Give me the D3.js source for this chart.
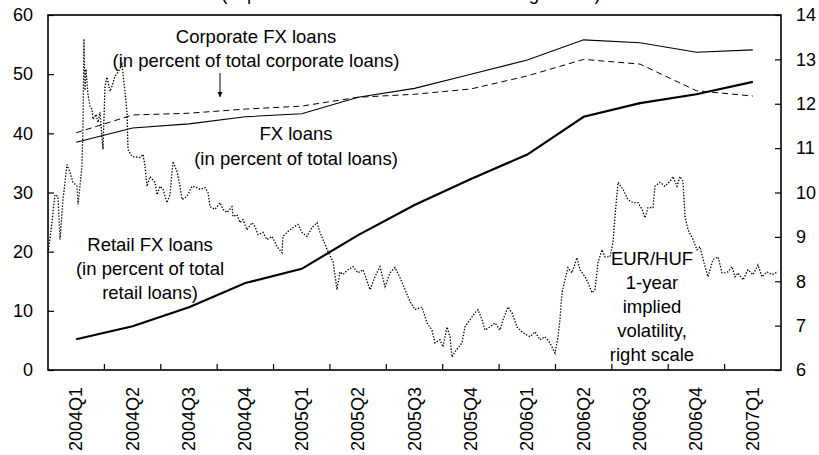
<!DOCTYPE html>
<html>
<head>
<meta charset="utf-8">
<script src="https://cdn.jsdelivr.net/npm/d3@7"></script>
<style>
  body { margin: 0; background: #fff; }
  svg { display: block; }
  text { font-family: "Liberation Sans", Arial, sans-serif; fill: #000; }
</style>
</head>
<body>
<div id="container"></div>
<script>
// quarters on the x axis
var quarters = ["2004Q1", "2004Q2", "2004Q3", "2004Q4", "2005Q1", "2005Q2", "2005Q3",
                "2005Q4", "2006Q1", "2006Q2", "2006Q3", "2006Q4", "2007Q1"];

// left scale, percent
var fxLoans        = [38.5, 40.9, 41.6, 42.8, 43.3, 46.1, 47.6, 50.0, 52.4, 55.8, 55.3, 53.7, 54.1];
var corporateLoans = [40.1, 43.1, 43.4, 44.1, 44.6, 46.1, 46.6, 47.5, 49.7, 52.5, 51.7, 47.2, 46.3];
var retailLoans    = [5.2, 7.4, 10.6, 14.7, 17.1, 22.8, 27.9, 32.3, 36.4, 42.8, 45.1, 46.6, 48.7];

// right scale: EUR/HUF 1-year implied volatility, [quarters since 2004Q1 start, value]
var volatility = [
  [0.00, 8.64], [0.035, 8.94], [0.124, 9.95], [0.177, 9.91], [0.213, 8.94], [0.266, 9.84],
  [0.337, 10.63], [0.390, 10.45], [0.443, 10.23], [0.514, 10.14], [0.532, 9.73], [0.603, 10.59],
  [0.621, 11.49], [0.638, 13.46], [0.656, 12.30], [0.674, 12.78], [0.709, 12.21], [0.745, 11.94],
  [0.780, 11.88], [0.798, 11.65], [0.851, 11.76], [0.887, 11.58], [0.922, 11.81], [0.975, 10.97],
  [1.011, 12.40], [1.046, 12.60], [1.100, 12.28], [1.135, 12.40], [1.188, 12.62], [1.241, 12.71],
  [1.312, 12.89], [1.366, 12.26], [1.401, 11.81], [1.419, 10.97], [1.490, 10.81], [1.632, 10.79],
  [1.685, 10.86], [1.720, 10.59], [1.756, 10.14], [1.809, 10.36], [1.898, 10.23], [1.933, 9.95],
  [1.986, 10.14], [2.040, 10.07], [2.110, 9.77], [2.164, 9.95], [2.217, 10.70], [2.288, 10.47],
  [2.341, 10.14], [2.377, 9.84], [2.465, 9.91], [2.554, 10.14], [2.643, 10.11], [2.696, 10.07],
  [2.784, 10.11], [2.838, 10.00], [2.873, 9.68], [2.962, 9.62], [3.050, 9.77], [3.104, 9.62],
  [3.175, 9.55], [3.263, 9.68], [3.281, 9.46], [3.352, 9.50], [3.405, 9.32], [3.458, 9.39],
  [3.529, 9.16], [3.618, 9.32], [3.671, 9.23], [3.724, 9.05], [3.813, 9.10], [3.884, 8.94],
  [3.973, 9.01], [4.061, 8.78], [4.150, 8.64], [4.168, 9.01], [4.256, 9.12], [4.345, 9.21],
  [4.434, 9.28], [4.505, 9.10], [4.593, 9.01], [4.682, 9.21], [4.771, 9.32], [4.824, 9.10],
  [4.877, 8.94], [4.966, 8.67], [5.055, 8.44], [5.125, 7.81], [5.179, 8.21], [5.232, 8.15],
  [5.321, 8.26], [5.409, 8.33], [5.498, 8.19], [5.587, 8.26], [5.711, 7.81], [5.799, 8.10],
  [5.888, 8.33], [5.977, 7.88], [6.065, 8.19], [6.154, 8.31], [6.243, 8.08], [6.332, 7.81],
  [6.420, 7.54], [6.509, 7.36], [6.633, 7.42], [6.722, 7.06], [6.810, 6.90], [6.864, 6.61],
  [6.952, 6.68], [7.005, 6.52], [7.076, 6.97], [7.130, 6.75], [7.165, 6.29], [7.218, 6.41],
  [7.342, 6.61], [7.395, 6.97], [7.484, 7.13], [7.573, 7.29], [7.626, 7.36], [7.697, 7.13],
  [7.750, 6.90], [7.839, 6.97], [7.928, 7.06], [8.016, 6.90], [8.070, 7.13], [8.158, 7.42],
  [8.229, 7.29], [8.318, 6.97], [8.424, 6.84], [8.548, 6.75], [8.637, 6.86], [8.726, 6.68],
  [8.814, 6.75], [8.903, 6.61], [8.992, 6.38], [9.045, 6.75], [9.080, 7.13], [9.116, 7.74],
  [9.169, 8.03], [9.222, 8.31], [9.293, 8.19], [9.382, 8.53], [9.435, 8.26], [9.524, 8.10],
  [9.577, 7.97], [9.648, 7.74], [9.701, 7.81], [9.755, 8.42], [9.825, 8.71], [9.879, 8.55],
  [9.967, 8.55], [10.020, 8.87], [10.056, 9.46], [10.109, 10.23], [10.198, 10.07], [10.287, 9.84],
  [10.375, 9.77], [10.464, 9.77], [10.535, 9.62], [10.588, 9.43], [10.641, 9.66], [10.730, 9.66],
  [10.765, 10.14], [10.854, 10.23], [10.943, 10.14], [11.031, 10.25], [11.085, 10.36], [11.155, 10.14],
  [11.209, 10.36], [11.262, 10.25], [11.297, 9.46], [11.351, 9.16], [11.439, 8.94], [11.510, 8.71],
  [11.563, 8.78], [11.652, 8.33], [11.705, 8.10], [11.794, 8.49], [11.883, 8.55], [11.954, 8.19],
  [12.007, 8.19], [12.060, 8.21], [12.131, 8.33], [12.184, 8.10], [12.237, 8.19], [12.326, 8.03],
  [12.415, 8.26], [12.503, 8.15], [12.592, 8.37], [12.663, 8.10], [12.752, 8.21], [12.840, 8.15],
  [12.947, 8.21]
];

var leftTicks = [0, 10, 20, 30, 40, 50, 60];
var rightTicks = [6, 7, 8, 9, 10, 11, 12, 13, 14];

var width = 819, height = 455;
var plot = { left: 48, right: 781, top: 15, bottom: 370 };
var fs = "18.5px";

var svg = d3.select("#container").append("svg")
    .attr("width", width)
    .attr("height", height);

var x = d3.scaleBand().domain(quarters).range([plot.left, plot.right]);
var xt = d3.scaleLinear().domain([0, quarters.length]).range([plot.left, plot.right]);
var yL = d3.scaleLinear().domain([0, 60]).range([plot.bottom, plot.top]);
var yR = d3.scaleLinear().domain([6, 14]).range([plot.bottom, plot.top]);

// title, cut off by the top edge as in the source picture
svg.append("text")
    .attr("x", 411).attr("y", -0.5)
    .attr("text-anchor", "middle")
    .style("font-size", fs)
    .text("(in percent of total loans in the banking sector)");

// frame
svg.append("rect")
    .attr("x", plot.left).attr("y", plot.top)
    .attr("width", plot.right - plot.left).attr("height", plot.bottom - plot.top)
    .attr("fill", "none").attr("stroke", "#000").attr("stroke-width", 1.6);

// y axes, ticks point inward
var gl = svg.append("g").attr("transform", "translate(" + plot.left + ",0)")
    .call(d3.axisLeft(yL).tickValues(leftTicks).tickSizeInner(-6).tickSizeOuter(0).tickPadding(15));
var gr = svg.append("g").attr("transform", "translate(" + plot.right + ",0)")
    .call(d3.axisRight(yR).tickValues(rightTicks).tickSizeInner(-6).tickSizeOuter(0).tickPadding(15));
[gl, gr].forEach(function(g) {
  g.select(".domain").remove();
  g.selectAll(".tick line").attr("stroke", "#000").attr("stroke-width", 1.2);
  g.selectAll(".tick text").style("font-size", "18px").attr("fill", "#000")
    .style("font-family", '"Liberation Sans", Arial, sans-serif');
});

// x ticks at category boundaries
svg.append("g").selectAll("line")
    .data(d3.range(1, quarters.length))
    .enter().append("line")
    .attr("x1", function(d) { return xt(d); }).attr("x2", function(d) { return xt(d); })
    .attr("y1", plot.bottom).attr("y2", plot.bottom - 6)
    .attr("stroke", "#000").attr("stroke-width", 1.2);

svg.append("g").selectAll("text")
    .data(quarters)
    .enter().append("text")
    .attr("transform", function(d) { return "translate(" + (x(d) + x.bandwidth() / 2) + "," + 387 + ") rotate(-90)"; })
    .attr("text-anchor", "end")
    .attr("dominant-baseline", "central")
    .style("font-size", "18px")
    .text(function(d) { return d; });

var lineL = d3.line()
    .x(function(d, i) { return x(quarters[i]) + x.bandwidth() / 2; })
    .y(function(d) { return yL(d); });

var lineR = d3.line()
    .x(function(d) { return xt(d[0]); })
    .y(function(d) { return yR(d[1]); });

svg.append("path").datum(volatility)
    .attr("d", lineR)
    .attr("fill", "none").attr("stroke", "#000").attr("stroke-width", 1.3)
    .attr("stroke-dasharray", "1.4,1.6");

svg.append("path").datum(corporateLoans)
    .attr("d", lineL)
    .attr("fill", "none").attr("stroke", "#000").attr("stroke-width", 1)
    .attr("stroke-dasharray", "6,4");

svg.append("path").datum(fxLoans)
    .attr("d", lineL)
    .attr("fill", "none").attr("stroke", "#000").attr("stroke-width", 1.1);

svg.append("path").datum(retailLoans)
    .attr("d", lineL)
    .attr("fill", "none").attr("stroke", "#000").attr("stroke-width", 2.2);

// annotations
function label(lines, cx, y0, step) {
  var t = svg.append("text").attr("text-anchor", "middle").style("font-size", fs);
  lines.forEach(function(s, i) {
    t.append("tspan").attr("x", cx).attr("y", y0 + i * step).text(s);
  });
}
label(["Corporate FX loans", "(in percent of total corporate loans)"], 256, 43, 24);
label(["FX loans", "(in percent of total loans)"], 296, 140, 25);
label(["Retail FX loans", "(in percent of total", "retail loans)"], 150, 251, 24);
label(["EUR/HUF", "1-year", "implied", "volatility,", "right scale"], 652, 265, 24);

// arrow to corporate line
svg.append("defs").append("marker")
    .attr("id", "arrow").attr("viewBox", "0 0 10 10")
    .attr("refX", 10).attr("refY", 5)
    .attr("markerWidth", 5).attr("markerHeight", 5)
    .attr("orient", "auto")
    .append("path").attr("d", "M0,0L10,5L0,10z").attr("fill", "#000");
svg.append("line")
    .attr("x1", 220).attr("y1", 73).attr("x2", 220).attr("y2", 97)
    .attr("stroke", "#000").attr("stroke-width", 1)
    .attr("marker-end", "url(#arrow)");
</script>
</body>
</html>
